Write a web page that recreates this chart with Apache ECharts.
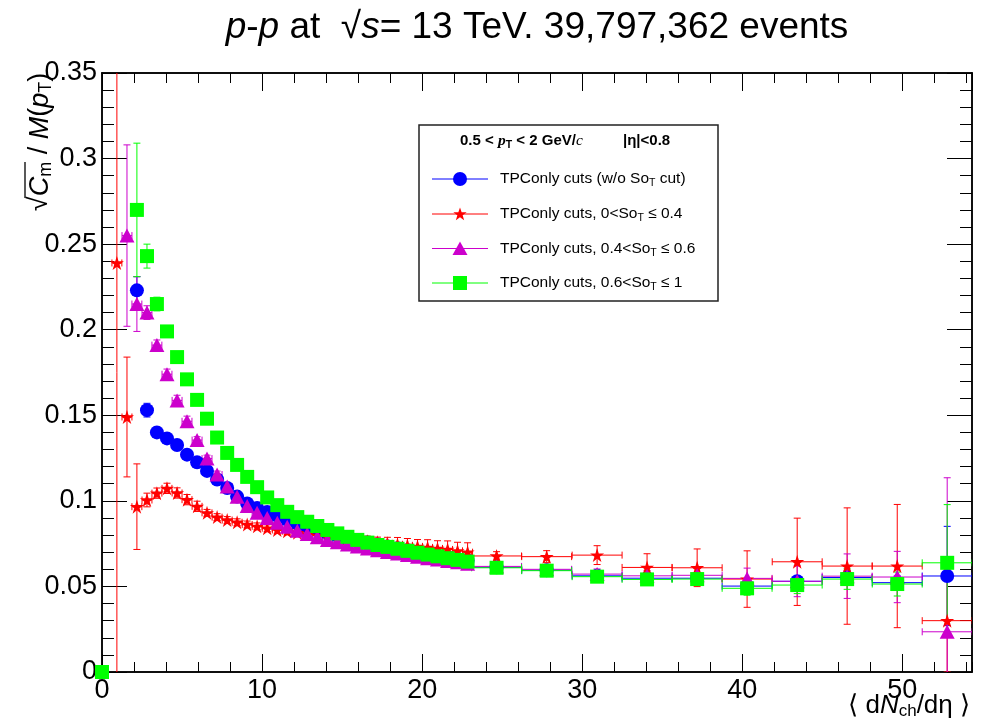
<!DOCTYPE html>
<html>
<head>
<meta charset="utf-8">
<script src="https://cdn.jsdelivr.net/npm/echarts@6/dist/echarts.min.js"></script>
<style>
html,body{margin:0;padding:0;background:#fff;}
#chart{width:989px;height:727px;}
</style>
</head>
<body>
<div id="chart"></div>
<script>
// ---------------- data ----------------
const xLow = [0.93,1.56,2.18,2.81,3.43,4.06,4.69,5.31,5.94,6.56,7.19,7.82,8.44,9.07,9.69,10.32,10.95,11.57,12.20,12.82,13.45,14.08,14.70,15.33,15.95,16.58,17.21,17.83,18.46,19.08,19.71,20.34,20.96,21.59,22.21,22.84];
const xHigh = [24.65,27.78,30.93,34.05,37.18,40.30,43.43,46.55,49.68,52.80];
const xLowHalfWidth = 0.31;
const xHighHalfWidth = 1.56;

const blueLow = [null,null,0.223,0.153,0.140,0.1365,0.1326,0.127,0.1225,0.1175,0.1125,0.1075,0.1025,0.0985,0.0958,0.0935,0.0912,0.0890,0.0868,0.0848,0.0829,0.0812,0.0796,0.0781,0.0768,0.0756,0.0745,0.0734,0.0723,0.0712,0.0702,0.0692,0.0682,0.0672,0.0662,0.0652];
const blueLowErr = [null,null,0.008,0.004,0.003,0.002,0.002,0.002,0.002,0.002,0.0015,0.0015,0.0015,0.0015,0.0015,0.0015,0.0015,0.0015,0.0015,0.0015,0.0015,0.0015,0.0015,0.0015,0.0015,0.0015,0.0015,0.0015,0.0015,0.002,0.002,0.002,0.002,0.002,0.002,0.002];
const blueHigh = [0.0612,0.0595,0.0562,0.0548,0.0548,0.0502,0.0530,0.0552,0.0522,0.0561];
const blueHighErr = [0.001,0.0012,0.0015,0.002,0.002,0.003,0.003,0.004,0.004,0.029];

const redLow = [0.239,0.149,0.0966,0.1005,0.1045,0.1073,0.1046,0.1007,0.0968,0.0930,0.0905,0.0888,0.0875,0.0862,0.0851,0.0840,0.0830,0.0822,0.0814,0.0806,0.0798,0.0790,0.0783,0.0776,0.0770,0.0764,0.0758,0.0752,0.0746,0.0740,0.0734,0.0728,0.0722,0.0716,0.0708,0.0700];
const redLowErr = [0.5,0.035,0.025,0.004,0.003,0.003,0.003,0.003,0.003,0.002,0.002,0.002,0.002,0.002,0.002,0.002,0.002,0.002,0.002,0.002,0.002,0.002,0.0025,0.0025,0.003,0.003,0.003,0.0035,0.004,0.004,0.004,0.0045,0.0045,0.005,0.005,0.0055];
const redHigh = [0.0678,0.0674,0.0683,0.0611,0.0609,0.0543,0.0644,0.0619,0.0619,0.0300];
const redHighErr = [0.0025,0.0035,0.0055,0.008,0.011,0.0165,0.0255,0.034,0.036,0.030];

const magentaLow = [null,0.255,0.215,0.210,0.191,0.174,0.1587,0.1465,0.1355,0.1247,0.1154,0.1084,0.1024,0.0970,0.0930,0.0900,0.0872,0.0848,0.0826,0.0806,0.0788,0.0772,0.0758,0.0745,0.0733,0.0722,0.0711,0.0701,0.0692,0.0683,0.0674,0.0665,0.0657,0.0649,0.0641,0.0633];
const magentaLowErr = [null,0.053,0.016,0.004,0.003,0.003,0.003,0.003,0.002,0.002,0.002,0.002,0.002,0.002,0.002,0.002,0.002,0.002,0.002,0.002,0.002,0.002,0.002,0.002,0.002,0.002,0.002,0.002,0.002,0.002,0.002,0.002,0.002,0.002,0.002,0.002];
const magentaHigh = [0.0617,0.0600,0.0572,0.0562,0.0565,0.0547,0.0530,0.0560,0.0555,0.0235];
const magentaHighErr = [0.0015,0.002,0.003,0.003,0.004,0.006,0.009,0.013,0.015,0.090];

const greenLow = [null,null,0.270,0.243,0.215,0.199,0.184,0.171,0.159,0.148,0.137,0.128,0.121,0.114,0.108,0.102,0.0975,0.0936,0.0905,0.0878,0.0853,0.0830,0.0810,0.0790,0.0772,0.0756,0.0742,0.0731,0.0720,0.0708,0.0697,0.0686,0.0676,0.0665,0.0655,0.0645];
const greenLowErr = [null,null,0.039,0.007,0.004,0.003,0.003,0.002,0.002,0.002,0.002,0.002,0.002,0.002,0.002,0.002,0.002,0.002,0.002,0.002,0.002,0.002,0.002,0.002,0.002,0.002,0.002,0.002,0.002,0.002,0.002,0.002,0.002,0.002,0.002,0.002];
const greenHigh = [0.0609,0.0592,0.0557,0.0541,0.0543,0.0489,0.0508,0.0543,0.0514,0.0638];
const greenHighErr = [0.0015,0.002,0.002,0.003,0.003,0.004,0.005,0.006,0.007,0.034];
const greenOrigin = [0, 0];

const xTickLabels = [0, 10, 20, 30, 40, 50];
const yTickLabels = [0, 0.05, 0.1, 0.15, 0.2, 0.25, 0.3, 0.35];
const seriesNames = ['TPConly cuts (w/o So_T cut)', 'TPConly cuts, 0<So_T ≤ 0.4', 'TPConly cuts, 0.4<So_T ≤ 0.6', 'TPConly cuts, 0.6<So_T ≤ 1'];

// ---------------- helpers ----------------
const F = "'Liberation Sans', Arial, Helvetica, sans-serif";
const COL = {blue: '#0000ff', red: '#ff0000', magenta: '#cc00cc', green: '#00ff00'};
const STAR = 'path://M50,2 L61.2,36.2 L97.6,36.3 L68.1,57.6 L79.4,92.1 L50,70.8 L20.6,92.1 L31.9,57.6 L2.4,36.3 L38.8,36.2 Z';

function build(ys, eys, xs, ex) {
  const out = [];
  for (let i = 0; i < xs.length; i++) {
    if (ys[i] == null) continue;
    out.push([xs[i], ys[i], ex, eys[i] || 0]);
  }
  return out;
}
function full(low, lowErr, high, highErr) {
  return build(low, lowErr, xLow, xLowHalfWidth).concat(build(high, highErr, xHigh, xHighHalfWidth));
}
const dBlue = full(blueLow, blueLowErr, blueHigh, blueHighErr);
const dRed = full(redLow, redLowErr, redHigh, redHighErr);
const dMag = full(magentaLow, magentaLowErr, magentaHigh, magentaHighErr);
const dGreen = full(greenLow, greenLowErr, greenHigh, greenHighErr);

function errRender(color) {
  return function (params, api) {
    const x = api.value(0), y = api.value(1), ex = api.value(2), ey = api.value(3);
    const cs = params.coordSys;
    const top = cs.y, bot = cs.y + cs.height;
    const c = api.coord([x, y]);
    const l = api.coord([x - ex, y])[0], r = api.coord([x + ex, y])[0];
    const t = api.coord([x, y + ey])[1], b = api.coord([x, y - ey])[1];
    const st = {stroke: color, lineWidth: 1};
    const cap = 3.5;
    const ch = [];
    if (ex > 0) {
      ch.push({type: 'line', shape: {x1: l, y1: c[1], x2: r, y2: c[1]}, style: st});
      ch.push({type: 'line', shape: {x1: l, y1: c[1] - cap, x2: l, y2: c[1] + cap}, style: st});
      ch.push({type: 'line', shape: {x1: r, y1: c[1] - cap, x2: r, y2: c[1] + cap}, style: st});
    }
    if (ey > 0) {
      const tt = Math.max(top, t), bb = Math.min(bot, b);
      ch.push({type: 'line', shape: {x1: c[0], y1: tt, x2: c[0], y2: bb}, style: st});
      if (t >= top) ch.push({type: 'line', shape: {x1: c[0] - cap, y1: t, x2: c[0] + cap, y2: t}, style: st});
      if (b <= bot) ch.push({type: 'line', shape: {x1: c[0] - cap, y1: b, x2: c[0] + cap, y2: b}, style: st});
    }
    return {type: 'group', children: ch};
  };
}
function errSeries(data, color) {
  return {type: 'custom', data: data, renderItem: errRender(color), silent: true, z: 2,
    encode: {x: 0, y: 1}, animation: false, clip: true};
}
function markSeries(name, data, color, symbol, size) {
  return {type: 'scatter', name: name, data: data.map(d => [d[0], d[1]]), symbol: symbol, symbolSize: size,
    itemStyle: {color: color, opacity: 1}, z: 3, clip: false, silent: true, animation: false};
}

const axisCommon = {
  type: 'value', splitLine: {show: false},
  axisLine: {show: true, onZero: false, lineStyle: {color: '#000', width: 1.5}},
};
const xMin = 0, xMax = 54.35, yMin = 0, yMax = 0.35;

const xAxes = [
  Object.assign({}, axisCommon, {min: xMin, max: xMax, interval: 10, position: 'bottom',
    axisTick: {show: true, inside: true, length: 18, lineStyle: {color: '#000', width: 1}},
    axisLabel: {show: true, showMaxLabel: false, color: '#000', fontSize: 27, fontFamily: F, margin: 5,
      formatter: v => xTickLabels.indexOf(Math.round(v)) >= 0 && Math.abs(v - Math.round(v)) < 1e-6 ? String(Math.round(v)) : ''}}),
  Object.assign({}, axisCommon, {min: xMin, max: xMax, interval: 2, position: 'bottom',
    axisTick: {show: true, inside: true, length: 10, lineStyle: {color: '#000', width: 1}}, axisLabel: {show: false}}),
  Object.assign({}, axisCommon, {min: xMin, max: xMax, interval: 10, position: 'top',
    axisTick: {show: true, inside: true, length: 18, lineStyle: {color: '#000', width: 1}}, axisLabel: {show: false}}),
  Object.assign({}, axisCommon, {min: xMin, max: xMax, interval: 2, position: 'top',
    axisTick: {show: true, inside: true, length: 10, lineStyle: {color: '#000', width: 1}}, axisLabel: {show: false}})
];
const yAxes = [
  Object.assign({}, axisCommon, {min: yMin, max: yMax, interval: 0.05, position: 'left',
    axisTick: {show: true, inside: true, length: 25, lineStyle: {color: '#000', width: 1}},
    axisLabel: {show: true, color: '#000', fontSize: 27, fontFamily: F, margin: 5,
      formatter: v => { const k = yTickLabels.find(t => Math.abs(t - v) < 1e-9); return k === undefined ? '' : String(k); }}}),
  Object.assign({}, axisCommon, {min: yMin, max: yMax, interval: 0.01, position: 'left',
    axisTick: {show: true, inside: true, length: 12, lineStyle: {color: '#000', width: 1}}, axisLabel: {show: false}}),
  Object.assign({}, axisCommon, {min: yMin, max: yMax, interval: 0.05, position: 'right',
    axisTick: {show: true, inside: true, length: 25, lineStyle: {color: '#000', width: 1}}, axisLabel: {show: false}}),
  Object.assign({}, axisCommon, {min: yMin, max: yMax, interval: 0.01, position: 'right',
    axisTick: {show: true, inside: true, length: 12, lineStyle: {color: '#000', width: 1}}, axisLabel: {show: false}})
];

// ---------------- text / legend graphics ----------------
const tFont = 37;
const titleRich = {
  n: {fontSize: tFont, fontFamily: F, color: '#000'},
  i: {fontSize: tFont, fontFamily: F, fontStyle: 'italic', color: '#000'}
};
const labRich = {
  n: {fontSize: 27, fontFamily: F, color: '#000', lineHeight: 30},
  i: {fontSize: 27, fontFamily: F, fontStyle: 'italic', color: '#000', lineHeight: 30},
  s: {fontSize: 18, fontFamily: F, color: '#000', lineHeight: 18, verticalAlign: 'bottom'}
};
const xnRich = {
  n: {fontSize: 26, fontFamily: F, color: '#000', lineHeight: 28},
  i: {fontSize: 26, fontFamily: F, fontStyle: 'italic', color: '#000', lineHeight: 28},
  s: {fontSize: 17, fontFamily: F, color: '#000', lineHeight: 17, verticalAlign: 'bottom'}
};
const legRich = {
  n: {fontSize: 15.5, fontFamily: F, color: '#000', lineHeight: 20},
  s: {fontSize: 10.5, fontFamily: F, color: '#000', lineHeight: 11, verticalAlign: 'bottom'},
  b: {fontSize: 15, fontFamily: F, fontWeight: 'bold', color: '#000', lineHeight: 20},
  bi: {fontSize: 15.5, fontFamily: "'Liberation Serif', 'Times New Roman', serif", fontStyle: 'italic', fontWeight: 'bold', color: '#000', lineHeight: 20},
  bs: {fontSize: 10.5, fontFamily: F, fontWeight: 'bold', color: '#000', lineHeight: 11, verticalAlign: 'bottom'},
  ci: {fontSize: 15.5, fontFamily: "'Liberation Serif', 'Times New Roman', serif", fontStyle: 'italic', color: '#000', lineHeight: 20}
};
function richName(s) {
  const parts = s.split('_T');
  return '{n|' + parts[0] + '}{s|T}{n|' + parts[1] + '}';
}
function txt(x, y, text, rich, align) {
  return {type: 'text', x: x, y: y, silent: true, z: 10,
    style: {text: text, rich: rich, fill: '#000', align: align || 'left', textAlign: align || 'left',
      verticalAlign: 'middle', textVerticalAlign: 'middle'}};
}
function starPoints(cx, cy, R) {
  const pts = [];
  for (let k = 0; k < 10; k++) {
    const a = -Math.PI / 2 + k * Math.PI / 5;
    const rr = k % 2 === 0 ? R : R * 0.4;
    pts.push([cx + rr * Math.cos(a), cy + rr * Math.sin(a)]);
  }
  return pts;
}

const legX0 = 432, legX1 = 488, legMx = 460, legTx = 500;
const legY = [179, 214, 248.5, 283];
const graphics = [
  txt(537, 28, '{i|p}{n|-}{i|p}{n| at  √}{i|s}{n|= 13 TeV. 39,797,362 events}', titleRich, 'center'),
  {type: 'group', x: 40, y: 142, rotation: Math.PI / 2, silent: true, children: [
    {type: 'text', x: 0, y: 0, style: {text: '{n|√}{i|C}{s|m}{n| / }{i|M}{n|(}{i|p}{s|T}{n|)}', rich: labRich, fill: '#000',
      align: 'center', textAlign: 'center', verticalAlign: 'middle', textVerticalAlign: 'middle'}},
    {type: 'line', shape: {x1: -56, y1: -15, x2: -20, y2: -15}, style: {stroke: '#000', lineWidth: 1.3}}
  ]},
  txt(970, 706, '{n|⟨ d}{i|N}{s|ch}{n|/dη ⟩}', xnRich, 'right'),
  {type: 'rect', shape: {x: 419, y: 125, width: 299, height: 176}, style: {fill: '#fff', stroke: '#222', lineWidth: 1.5}, z: 9, silent: true},
  txt(460, 141, '{b|0.5 < }{bi|p}{bs|T}{b| < 2 GeV/}{ci|c}', legRich, 'left'),
  txt(623, 141, '{b||η|<0.8}', legRich, 'left'),
  {type: 'line', shape: {x1: legX0, y1: legY[0], x2: legX1, y2: legY[0]}, style: {stroke: COL.blue, lineWidth: 1}, z: 10, silent: true},
  {type: 'circle', shape: {cx: legMx, cy: legY[0], r: 7}, style: {fill: COL.blue}, z: 11, silent: true},
  txt(legTx, legY[0], richName(seriesNames[0]), legRich),
  {type: 'line', shape: {x1: legX0, y1: legY[1], x2: legX1, y2: legY[1]}, style: {stroke: COL.red, lineWidth: 1}, z: 10, silent: true},
  {type: 'polygon', shape: {points: starPoints(legMx, legY[1] + 0.5, 7)}, style: {fill: COL.red}, z: 11, silent: true},
  txt(legTx, legY[1], richName(seriesNames[1]), legRich),
  {type: 'line', shape: {x1: legX0, y1: legY[2], x2: legX1, y2: legY[2]}, style: {stroke: COL.magenta, lineWidth: 1}, z: 10, silent: true},
  {type: 'polygon', shape: {points: [[legMx, legY[2] - 7], [legMx + 7.5, legY[2] + 6.5], [legMx - 7.5, legY[2] + 6.5]]}, style: {fill: COL.magenta}, z: 11, silent: true},
  txt(legTx, legY[2], richName(seriesNames[2]), legRich),
  {type: 'line', shape: {x1: legX0, y1: legY[3], x2: legX1, y2: legY[3]}, style: {stroke: COL.green, lineWidth: 1}, z: 10, silent: true},
  {type: 'rect', shape: {x: legMx - 7, y: legY[3] - 7, width: 14, height: 14}, style: {fill: COL.green}, z: 11, silent: true},
  txt(legTx, legY[3], richName(seriesNames[3]), legRich)
];

const chart = echarts.init(document.getElementById('chart'), null, {renderer: 'canvas'});
chart.setOption({
  backgroundColor: '#fff',
  animation: false,
  grid: {left: 102, right: 17, top: 73, bottom: 55, containLabel: false, outerBoundsMode: 'none'},
  xAxis: xAxes,
  yAxis: yAxes,
  series: [
    errSeries(dBlue, COL.blue),
    errSeries(dRed, COL.red),
    errSeries(dMag, COL.magenta),
    errSeries(dGreen, COL.green),
    markSeries(seriesNames[0], dBlue, COL.blue, 'circle', 14),
    markSeries(seriesNames[1], dRed, COL.red, STAR, 14),
    markSeries(seriesNames[2], dMag, COL.magenta, 'triangle', [15, 14]),
    markSeries(seriesNames[3], dGreen.concat([[greenOrigin[0], greenOrigin[1]]]), COL.green, 'rect', 14)
  ],
  graphic: graphics
});
</script>
</body>
</html>
